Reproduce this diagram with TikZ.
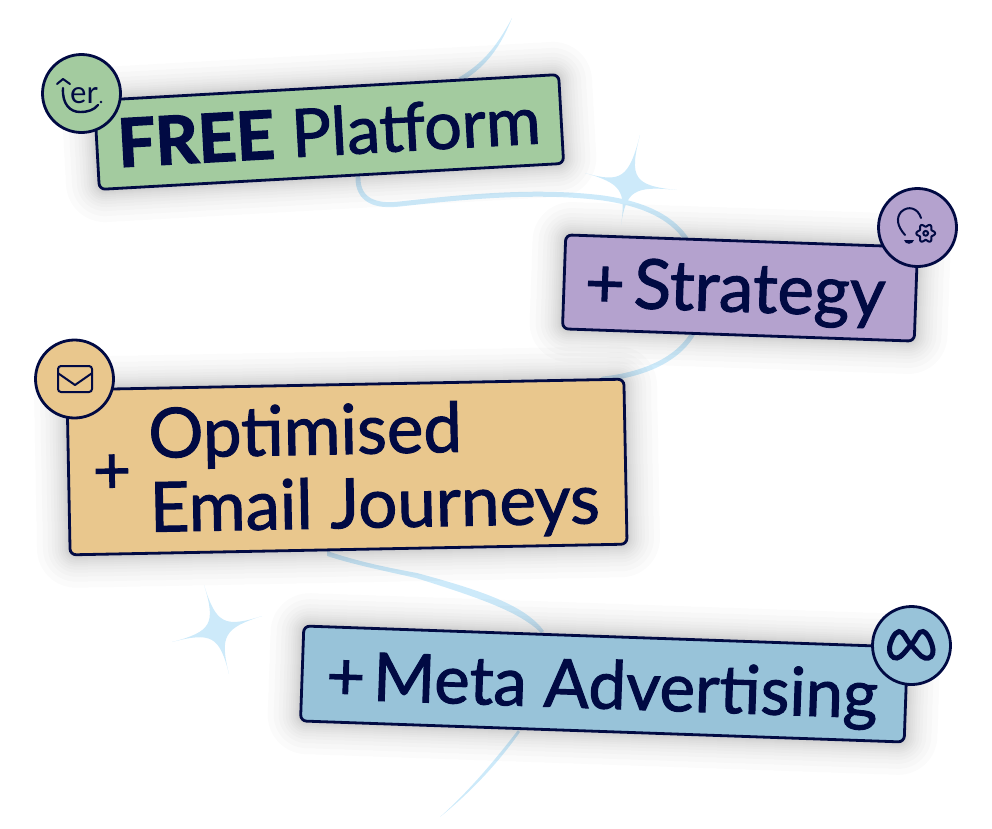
\documentclass[tikz,border=0pt]{standalone}
\usepackage{fontspec}
\setmainfont{Lato}
\newfontfamily\cardfont{Lato}[FakeBold=1.5]
\newfontfamily\heavyfont{Lato Bold}[FakeBold=2.5]
\usetikzlibrary{calc}
\definecolor{navy}{HTML}{010A43}
\definecolor{glowblue}{HTML}{CDEAFA}
\definecolor{cardgreen}{HTML}{A3CB9F}
\definecolor{cardpurple}{HTML}{B4A2CE}
\definecolor{cardorange}{HTML}{E9C78D}
\definecolor{cardblue}{HTML}{98C3D9}
\newcommand{\sizedtext}[1]{\fontsize{#1}{#1}\selectfont}
\newcommand{\sparkle}[5]{
  \fill[glowblue] #2 .. controls ($#1!.14!#2$) and ($#1!.14!#3$) .. #3
    .. controls ($#1!.14!#3$) and ($#1!.14!#4$) .. #4
    .. controls ($#1!.14!#4$) and ($#1!.14!#5$) .. #5
    .. controls ($#1!.14!#5$) and ($#1!.14!#2$) .. cycle;
}
\begin{document}
\begin{tikzpicture}[
            x=1pt, y=-1pt,
            card/.style={draw=navy, line width=2.8pt, rounded corners=6pt},
            cardtext/.style={text=navy, inner sep=0pt, font=\cardfont\sizedtext{#1}},
            badge/.style={circle, draw=navy, line width=2.8pt, minimum size=78pt, inner sep=0pt},
            iconline/.style={draw=navy, line width=2pt, line cap=round, line join=round},
            ribbon/.style={draw=glowblue, line width=5pt, line cap=round}
            ]
            \useasboundingbox (0,0) rectangle (992,828);
            % ribbon behind the cards
            \fill[glowblue] (512,18) .. controls (495,50) and (480,65) .. (458,78) -- (464,80) .. controls (486,66) and (500,48) .. (512,18);
            \draw[ribbon] (358,178) .. controls (358,200) and (375,207) .. (400,204) .. controls (470,196) and (540,190) .. (603,198) .. controls (645,204) and (675,218) .. (690,245) .. controls (700,285) and (702,315) .. (692,335) .. controls (675,362) and (640,375) .. (603,379);
            \fill[glowblue] (327,551) .. controls (360,562) and (385,567) .. (417,573) .. controls (480,590) and (525,605) .. (544,631) -- (541,633) .. controls (520,612) and (480,598) .. (416,578) .. controls (385,571) and (355,565) .. (327,556) -- cycle;
            \fill[glowblue] (518,730) .. controls (495,760) and (470,790) .. (440,817) .. controls (472,791) and (498,763) .. (520,732) -- cycle;
            \sparkle{(627,185)}{(640,135)}{(677,190)}{(621,225)}{(585,173)}
            \sparkle{(218,630)}{(204,585)}{(262,616)}{(229,674)}{(172,642)}
            % soft shadows
            \foreach \cx/\cy/\w/\h/\rot in {329/132/465/89/3.2, 740/288/352/94/-2, 347/467/557/165/1.1, 604/684/604/95/-2}{
              \foreach \s in {1,2,3,4,5,6,8,10,12,15,18,22,27,33}{
                \fill[black, opacity=.017, shift={(\cx,\cy)}, rotate=\rot, rounded corners=\s pt+6pt]
                  ({-\w/2-\s},{-\h/2-\s}) rectangle ({\w/2+\s},{\h/2+\s});
              }
            }
            % cards
            \node[card, fill=cardgreen, minimum width=465pt, minimum height=89pt, rotate=3.2] (freecard) at (329,132) {};
            \node[cardtext=66.5, rotate=3.2] (freetext) at (329,131) {{\heavyfont FREE} Platform};
            \node[card, fill=cardpurple, minimum width=352pt, minimum height=94pt, rotate=-2] (strategycard) at (740,288) {};
            \node[cardtext=69, rotate=-2] (strategytext) at (735,293) {+\hskip 9pt Strategy};
            \node[card, fill=cardorange, minimum width=557pt, minimum height=165pt, rotate=1.1] (emailcard) at (347,467) {};
            \node[cardtext=66, rotate=1.1] (emailplus) at (112,474) {+};
            \node[cardtext=69, rotate=1.1, align=left] (emailtext) at (374,471) {Optimised\\[5pt]Email Journeys};
            \node[card, fill=cardblue, minimum width=604pt, minimum height=95pt, rotate=-2] (metacard) at (604,684) {};
            \node[cardtext=67, rotate=-2] (metatext) at (602,690) {+\hskip 8pt Meta Advertising};
            % badges
            \node[badge, fill=cardgreen] (erbadge) at (81.5,93.5) {};
            \node[badge, fill=cardpurple] (bulbbadge) at (917.5,227.5) {};
            \node[badge, fill=cardorange] (mailbadge) at (74.5,379) {};
            \node[badge, fill=cardblue] (metabadge) at (911.5,645.5) {};
            % er icon
            \node[text=navy, font=\sizedtext{31}, inner sep=0pt] (erlabel) at (84,96) {er};
            \fill[navy] (101,102) circle (1.4);
            \draw[iconline] (57,84) -- (63,79) -- (70,84);
            \draw[iconline, line width=2.4pt] (63,88) .. controls (62,104) and (70,112) .. (80,112) .. controls (88,112) and (94,110) .. (98,105);
            % bulb and gear icon
            \draw[iconline] (905,235) .. controls (897,226) and (896,218) .. (901,212) .. controls (908,205) and (918,208) .. (921,218);
            \fill[navy] (904,240) -- (914,240) .. controls (913,245) and (905,245) .. (904,240);
            \draw[iconline] plot[domain=0:360, samples=73, smooth] ([shift={(925.7,233.3)}]\x:{8+1.4*cos(6*\x)});
            \draw[iconline] (925.7,233.3) circle (2.4);
            % mail icon
            \draw[iconline, rounded corners=3pt] (58,366) rectangle (92,392);
            \draw[iconline] (58.5,373.5) -- (75,385) -- (91.5,373.5);
            % meta icon
            \draw[navy, line width=5pt] plot[smooth cycle, tension=.8] coordinates {(911,645) (899,631.5) (889.5,648) (897,658) (911,645) (923,631.5) (933,650) (925,658)};
        \end{tikzpicture}
\end{document}
